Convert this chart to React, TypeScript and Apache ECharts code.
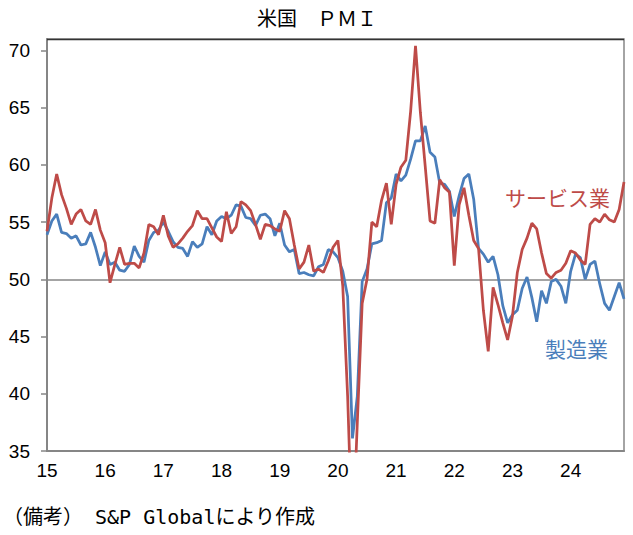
import React, { useEffect, useRef } from "react";
import * as echarts from "echarts";

const years = [2015, 2016, 2017, 2018, 2019, 2020, 2021, 2022, 2023, 2024];
const months = ["01", "02", "03", "04", "05", "06", "07", "08", "09", "10", "11", "12"];
const categories: string[] = [];
years.forEach((y) => months.forEach((m) => categories.push(`${y}-${m}`)));

const manufacturing = [
  53.9, 55.1, 55.7, 54.1, 54.0, 53.6, 53.8, 53.0, 53.1, 54.1, 52.8, 51.2,
  52.4, 51.3, 51.5, 50.8, 50.7, 51.3, 52.9, 52.0, 51.5, 53.4, 54.1, 54.3,
  55.0, 54.2, 53.3, 52.8, 52.7, 52.0, 53.3, 52.8, 53.1, 54.6, 53.9, 55.1,
  55.5, 55.3, 55.6, 56.5, 56.4, 55.4, 55.3, 54.7, 55.6, 55.7, 55.3, 53.8,
  54.9, 53.0, 52.4, 52.6, 50.5, 50.6, 50.4, 50.3, 51.1, 51.3, 52.6, 52.4,
  51.9, 50.7, 48.5, 36.1, 39.8, 49.8, 50.9, 53.1, 53.2, 53.4, 56.7, 57.1,
  59.2, 58.6, 59.1, 60.5, 62.1, 62.1, 63.4, 61.1, 60.7, 58.4, 58.3, 57.7,
  55.5, 57.3, 58.8, 59.2, 57.0, 52.7, 52.2, 51.5, 52.0, 50.4, 47.7, 46.2,
  46.9, 47.3, 49.2, 50.2, 48.4, 46.3, 49.0, 47.9, 49.8, 50.0, 49.4, 47.9,
  50.7, 52.2, 51.9, 50.0, 51.3, 51.6, 49.6, 47.9, 47.3, 48.5, 49.7, 48.3,
];

const services = [
  54.2, 57.1, 59.2, 57.4, 56.2, 54.8, 55.7, 56.1, 55.1, 54.8, 56.1, 54.3,
  53.2, 49.7, 51.3, 52.8, 51.3, 51.4, 51.4, 51.0, 52.3, 54.8, 54.6, 53.9,
  55.6, 53.8, 52.8, 53.1, 53.6, 54.2, 54.7, 56.0, 55.3, 55.3, 54.5, 53.7,
  53.3, 55.9, 54.0, 54.6, 56.8, 56.5, 56.0, 54.8, 53.5, 54.8, 54.7, 54.4,
  54.2, 56.0, 55.3, 53.0, 50.9, 51.5, 53.0, 50.7, 50.9, 50.6, 51.6, 52.8,
  53.4, 49.4, 39.8, 26.7, 37.5, 47.9, 50.0, 55.0, 54.6, 56.9, 58.4, 54.8,
  58.3, 59.8, 60.4, 64.7, 70.4, 64.6, 59.9, 55.1, 54.9, 58.7, 58.0, 57.6,
  51.2, 56.5, 58.0, 55.6, 53.4, 52.7, 47.3, 43.7, 49.3, 47.8, 46.2, 44.7,
  46.8, 50.6, 52.6, 53.6, 54.9, 54.4, 52.3, 50.5, 50.1, 50.6, 50.8, 51.4,
  52.5, 52.3, 51.7, 51.3, 54.8, 55.3, 55.0, 55.7, 55.2, 55.0, 56.1, 58.5,
];

const yTicks = [35, 40, 45, 50, 55, 60, 65, 70];
const title = "米国　ＰＭＩ";
const note = "（備考） S&P Globalにより作成";
const servicesName = "サービス業";
const manufacturingName = "製造業";

const BLUE = "#4A7EBB";
const RED = "#BE4B48";
const GRAY = "#868686";
const FONT = "'Noto Sans CJK JP', 'Liberation Sans', sans-serif";
const NOTE_FONT = "'DejaVu Sans Mono', 'Noto Sans CJK JP', monospace";

export default function App() {
  const ref = useRef<HTMLDivElement>(null);
  useEffect(() => {
    if (!ref.current) return;
    const chart = echarts.init(ref.current, undefined, { renderer: "svg" });
    chart.setOption({
      animation: false,
      backgroundColor: "#ffffff",
      grid: {
        left: 47,
        right: 9,
        top: 39,
        bottom: 84,
        containLabel: false,
        show: true,
        borderColor: GRAY,
        borderWidth: 1.5,
      },
      xAxis: {
        type: "category",
        data: categories,
        boundaryGap: false,
        axisLine: { show: true, lineStyle: { color: GRAY, width: 2 } },
        axisTick: { show: false },
        splitLine: { show: false },
        axisLabel: {
          interval: (index: number) => index % 12 === 0,
          formatter: (v: string) => v.slice(2, 4),
          color: "#000",
          fontSize: 19,
          fontFamily: "'Liberation Sans', sans-serif",
          margin: 10,
        },
      },
      yAxis: {
        type: "value",
        min: 35,
        max: 71,
        interval: 5,
        axisLine: { show: true, lineStyle: { color: GRAY, width: 2 } },
        axisTick: {
          show: true,
          length: 6,
          customValues: yTicks,
          lineStyle: { color: GRAY, width: 1.5 },
        },
        splitLine: { show: false },
        axisLabel: {
          customValues: yTicks,
          color: "#000",
          fontSize: 19,
          fontFamily: "'Liberation Sans', sans-serif",
          margin: 17,
        },
      },
      series: [
        {
          name: manufacturingName,
          type: "line",
          data: manufacturing,
          showSymbol: false,
          symbol: "none",
          clip: true,
          lineStyle: { color: BLUE, width: 2.75 },
          itemStyle: { color: BLUE },
          z: 3,
          markLine: {
            silent: true,
            symbol: ["none", "none"],
            label: { show: false },
            lineStyle: { color: GRAY, type: "solid", width: 1.5 },
            data: [{ yAxis: 50 }],
            z: 1,
          },
        },
        {
          name: servicesName,
          type: "line",
          data: services,
          showSymbol: false,
          symbol: "none",
          clip: true,
          lineStyle: { color: RED, width: 2.75 },
          itemStyle: { color: RED },
          z: 4,
        },
      ],
      graphic: [
        {
          type: "line",
          shape: { x1: 47, y1: 39.5, x2: 624, y2: 39.5 },
          style: { stroke: "#333", lineWidth: 1.5 },
          z: 10,
        },
        {
          type: "text",
          x: 317,
          y: 17,
          style: {
            text: title,
            fill: "#000",
            font: `20px ${FONT}`,
            textAlign: "center",
            textVerticalAlign: "middle",
          },
        },
        {
          type: "text",
          x: 505,
          y: 197,
          style: {
            text: servicesName,
            fill: RED,
            font: `21px ${FONT}`,
            textAlign: "left",
            textVerticalAlign: "middle",
          },
        },
        {
          type: "text",
          x: 545,
          y: 348,
          style: {
            text: manufacturingName,
            fill: BLUE,
            font: `21px ${FONT}`,
            textAlign: "left",
            textVerticalAlign: "middle",
          },
        },
        {
          type: "text",
          x: 3,
          y: 517,
          style: {
            text: note,
            fill: "#000",
            font: `20px ${NOTE_FONT}`,
            textAlign: "left",
            textVerticalAlign: "middle",
          },
        },
      ],
    });
    return () => chart.dispose();
  }, []);
  return (
    <div
      ref={ref}
      style={{ position: "fixed", left: 0, top: 0, width: 633, height: 535 }}
    />
  );
}
